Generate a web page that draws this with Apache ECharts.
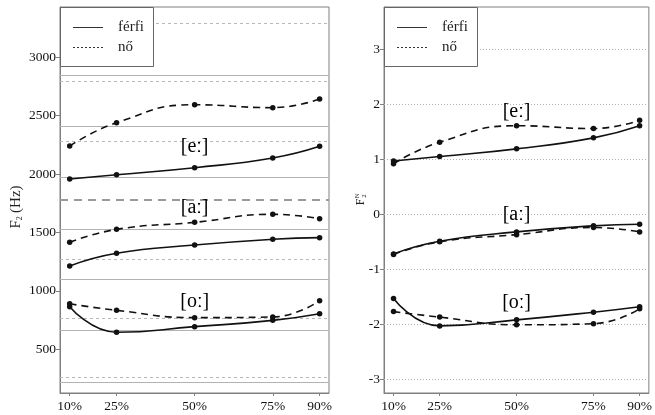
<!DOCTYPE html>
<html>
<head>
<meta charset="utf-8">
<script src="https://cdn.jsdelivr.net/npm/echarts@6/dist/echarts.min.js"></script>
<style>
  html, body { margin: 0; padding: 0; background: #fff; }
  #chart { width: 655px; height: 415px; }
</style>
</head>
<body>
<div id="chart"></div>
<script>
// Measurement points within the vowel (% of duration)
const timePoints = [10, 25, 50, 75, 90];
const xTickValues = [10, 25, 50, 75, 90];

// F2 in Hz
const hzMaleE   = [1958, 1995, 2055, 2138, 2238];
const hzFemaleE = [2240, 2440, 2594, 2569, 2643];
const hzMaleA   = [1213, 1322, 1393, 1442, 1456];
const hzFemaleA = [1416, 1527, 1587, 1656, 1618];
const hzMaleO   = [865, 646, 694, 748, 805];
const hzFemaleO = [890, 834, 771, 777, 916];

// Normalised F2
const normMaleE   = [0.97, 1.05, 1.19, 1.39, 1.61];
const normFemaleE = [0.92, 1.31, 1.61, 1.56, 1.71];
const normMaleA   = [-0.72, -0.49, -0.32, -0.21, -0.18];
const normFemaleA = [-0.73, -0.50, -0.37, -0.24, -0.32];
const normMaleO   = [-1.53, -2.03, -1.92, -1.78, -1.68];
const normFemaleO = [-1.77, -1.87, -2.01, -1.99, -1.72];

// Tick values
const hzTicks = [500, 1000, 1500, 2000, 2500, 3000];
const normTicks = [-3, -2, -1, 0, 1, 2, 3];

// Vowel labels and their vertical placement in each panel
const vowelLabels = ['[eː]', '[aː]', '[oː]'];
const labelTime = 50;
const hzLabelPos = [2232, 1712, 905];
const normLabelPos = [1.86, 0.0, -1.61];

// Reference levels (Hz): male solid, female dashed
const maleRefHz = [2846, 2412, 1973, 1527, 1099, 659, 222];
const femaleRefHz = [3291, 2795, 2283, 1273, 765, 265];
const femaleRefHzStrong = [1778];

const legendNames = ['férfi', 'nő'];

const FONT = '"Liberation Serif", "Times New Roman", serif';
const INK = '#111';
const FRAME = '#808080';

const chart = echarts.init(document.getElementById('chart'), null, { renderer: 'canvas' });

function zip(xs, ys) { return xs.map((x, i) => [x, ys[i]]); }

function xAxisFor(gridIndex) {
  return {
    type: 'value', gridIndex, min: 6.9, max: 93,
    axisLine: { show: true, onZero: false, lineStyle: { color: FRAME, width: 1 } },
    axisTick: { show: true, customValues: xTickValues, length: 3, lineStyle: { color: FRAME } },
    axisLabel: { customValues: xTickValues, formatter: v => v + '%', color: '#111',
                 fontFamily: FONT, fontSize: 13.5, margin: 6 },
    splitLine: { show: false }
  };
}

function yAxisFor(gridIndex, min, max, ticks) {
  return {
    type: 'value', gridIndex, min, max,
    axisLine: { show: true, onZero: false, lineStyle: { color: FRAME, width: 1 } },
    axisTick: { show: true, customValues: ticks, length: 4, lineStyle: { color: FRAME } },
    axisLabel: { customValues: ticks, formatter: v => String(v), color: '#111',
                 fontFamily: FONT, fontSize: 13.5, margin: 4 },
    splitLine: { show: false }
  };
}

function trajectory(name, data, idx, dashed) {
  return {
    type: 'line', name, xAxisIndex: idx, yAxisIndex: idx,
    data, smooth: 0.5, symbol: 'circle', symbolSize: 5.5,
    itemStyle: { color: INK },
    lineStyle: { color: INK, width: 1.6, type: dashed ? [7, 5] : 'solid' },
    z: 5
  };
}

function refLines(idx, values, style) {
  return {
    type: 'line', xAxisIndex: idx, yAxisIndex: idx, data: [], silent: true,
    markLine: {
      silent: true, symbol: 'none', label: { show: false },
      lineStyle: style,
      emphasis: { disabled: true },
      data: values.map(v => ({ yAxis: v }))
    },
    z: 1
  };
}

function legendBox(left) {
  const font = '15px ' + FONT;
  return {
    type: 'group', x: 0, y: 0, z: 100,
    children: [
      { type: 'rect', shape: { x: left + 0.5, y: 7.5, width: 93, height: 59 },
        style: { fill: '#fff', stroke: '#666', lineWidth: 1 }, z: 100 },
      { type: 'line', shape: { x1: left + 13, y1: 27.5, x2: left + 43, y2: 27.5 },
        style: { stroke: '#333', lineWidth: 1 }, z: 101 },
      { type: 'line', shape: { x1: left + 13, y1: 47.5, x2: left + 43, y2: 47.5 },
        style: { stroke: '#333', lineWidth: 1, lineDash: [2, 2] }, z: 101 },
      { type: 'text', x: left + 58, y: 27, z: 101,
        style: { text: legendNames[0], fill: '#222', font, verticalAlign: 'middle' } },
      { type: 'text', x: left + 58, y: 47, z: 101,
        style: { text: legendNames[1], fill: '#222', font, verticalAlign: 'middle' } }
    ]
  };
}

const option = {
  backgroundColor: '#fff',
  animation: false,
  grid: [
    { left: 60, top: 7, width: 269, height: 386, show: true, borderColor: FRAME, borderWidth: 1, backgroundColor: 'transparent' },
    { left: 384, top: 7, width: 269, height: 386, show: true, borderColor: FRAME, borderWidth: 1, backgroundColor: 'transparent' }
  ],
  xAxis: [xAxisFor(0), xAxisFor(1)],
  yAxis: [yAxisFor(0, 126, 3431, hzTicks), yAxisFor(1, -3.25, 3.77, normTicks)],
  series: [
    refLines(0, maleRefHz, { color: '#b3b3b3', width: 1, type: 'solid' }),
    refLines(0, femaleRefHz, { color: '#b8b8b8', width: 1, type: [3, 3] }),
    refLines(0, femaleRefHzStrong, { color: '#9a9a9a', width: 2, type: [8, 6] }),
    refLines(1, normTicks, { color: '#b0b0b0', width: 1, type: [1, 2] }),

    trajectory('férfi', zip(timePoints, hzMaleE), 0, false),
    trajectory('nő', zip(timePoints, hzFemaleE), 0, true),
    trajectory('férfi', zip(timePoints, hzMaleA), 0, false),
    trajectory('nő', zip(timePoints, hzFemaleA), 0, true),
    trajectory('férfi', zip(timePoints, hzMaleO), 0, false),
    trajectory('nő', zip(timePoints, hzFemaleO), 0, true),

    trajectory('férfi', zip(timePoints, normMaleE), 1, false),
    trajectory('nő', zip(timePoints, normFemaleE), 1, true),
    trajectory('férfi', zip(timePoints, normMaleA), 1, false),
    trajectory('nő', zip(timePoints, normFemaleA), 1, true),
    trajectory('férfi', zip(timePoints, normMaleO), 1, false),
    trajectory('nő', zip(timePoints, normFemaleO), 1, true)
  ],
  graphic: [
    legendBox(60),
    legendBox(384),
    // Axis title, left panel: F2 (Hz)
    {
      type: 'text', x: 16, y: 207, rotation: Math.PI / 2, z: 50,
      style: {
        text: '{f|F}{s|2} {f|(Hz)}',
        align: 'center', verticalAlign: 'middle',
        rich: {
          f: { fontFamily: FONT, fontSize: 15, fill: '#222' },
          s: { fontFamily: FONT, fontSize: 8, fill: '#222', padding: [7, 0, 0, 0] }
        }
      }
    },
    // Axis title, right panel: normalised F2
    {
      type: 'group', x: 361, y: 202, rotation: Math.PI / 2, z: 50,
      children: [
        { type: 'text', x: 0, y: 0,
          style: { text: 'F', font: '12px ' + FONT, fill: '#222', align: 'center', verticalAlign: 'middle' } },
        { type: 'text', x: 6, y: -4,
          style: { text: 'N', font: '7px ' + FONT, fill: '#222', align: 'center', verticalAlign: 'middle' } },
        { type: 'text', x: 6, y: 3,
          style: { text: '2', font: '7px ' + FONT, fill: '#222', align: 'center', verticalAlign: 'middle' } }
      ]
    }
  ]
};

chart.setOption(option);

// Vowel tags, placed through each panel's own coordinate system
function vowelTagGraphics(gridIndex, positions) {
  return vowelLabels.map((t, i) => {
    const [px, py] = chart.convertToPixel({ gridIndex }, [labelTime, positions[i]]);
    return {
      type: 'text', x: px, y: py, z: 60, silent: true,
      style: { text: t, font: '20px ' + FONT, fill: '#000', align: 'center', verticalAlign: 'middle' }
    };
  });
}

chart.setOption({
  graphic: option.graphic.concat(vowelTagGraphics(0, hzLabelPos), vowelTagGraphics(1, normLabelPos))
});
</script>
</body>
</html>
